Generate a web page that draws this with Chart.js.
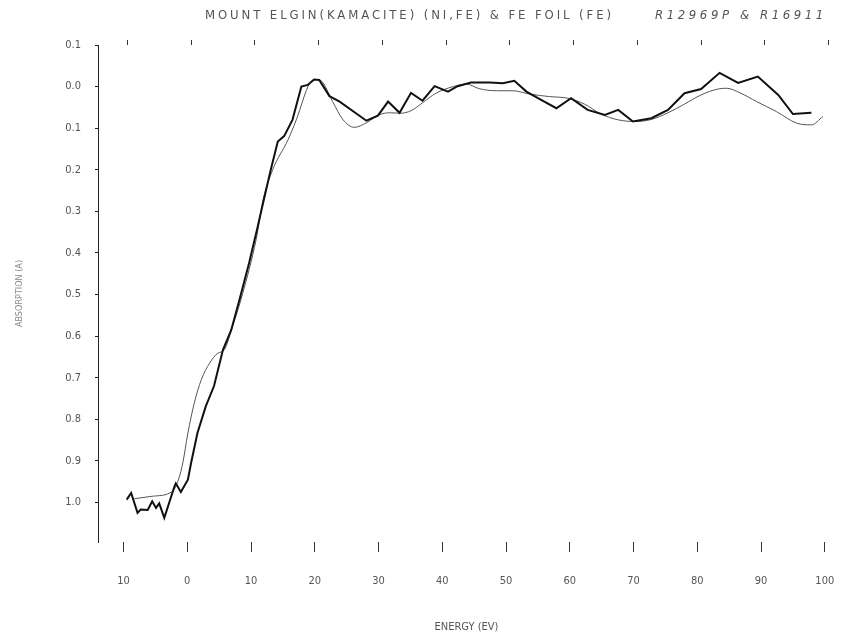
<!DOCTYPE html>
<html>
<head>
<meta charset="utf-8">
<script src="https://cdn.jsdelivr.net/npm/chart.js@4.4.0/dist/chart.umd.min.js"></script>
<style>
  html, body { margin: 0; padding: 0; background: #fff; }
  #wrap { width: 846px; height: 638px; }
</style>
</head>
<body>
<div id="wrap"><canvas id="chart"></canvas></div>
<script>
// sample spectrum (heavy, jagged line)
const sampleEnergy = [-9.5, -8.8, -7.8, -7.3, -6.2, -5.5, -4.9, -4.4, -3.6, -2.0, -1.8, -1.0, 0.1, 0.6, 1.6, 2.9, 4.2, 5.6, 6.9, 8.2, 9.7,
  11.0, 12.1, 13.1, 14.2, 15.2, 16.5, 17.9, 18.9, 19.9, 20.7, 22.3, 23.9, 28.1, 29.9, 31.5, 33.3, 35.1, 36.9, 38.8, 40.9,
  42.4, 44.5, 47.4, 49.5, 51.3, 53.2, 55.5, 57.9, 60.2, 62.8, 65.5, 67.6, 69.9, 72.8, 75.4, 78.0, 80.6, 83.5, 86.4, 89.5,
  92.7, 95.0, 97.9];
const sampleAbs = [0.993, 0.977, 1.025, 1.017, 1.018, 0.997, 1.013, 1.002, 1.037, 0.961, 0.954, 0.975, 0.945, 0.905, 0.833, 0.769, 0.720, 0.633, 0.585, 0.512, 0.424,
  0.340, 0.266, 0.200, 0.132, 0.119, 0.080, 0.000, -0.004, -0.017, -0.016, 0.023, 0.036, 0.082, 0.070, 0.036, 0.063, 0.015, 0.034, -0.001, 0.012,
  -0.001, -0.010, -0.010, -0.008, -0.014, 0.012, 0.032, 0.052, 0.028, 0.056, 0.068, 0.056, 0.084, 0.076, 0.056, 0.016, 0.006, -0.033, -0.009, -0.024,
  0.020, 0.066, 0.063];

// Fe foil reference (thin, smooth line)
const foilEnergy = [-8.3, -5.5, -2.3, -1.3, -0.7, 0.1, 1.1, 2.2, 3.5, 4.8, 5.8, 7.1, 8.7, 10.8, 11.9, 13.4, 15.8, 17.1, 19.2, 20.2, 21.0,
  22.8, 24.4, 26.2, 28.1, 30.1, 31.7, 33.5, 35.1, 36.9, 39.0, 41.7, 43.8, 45.8, 48.5, 51.1, 53.7, 56.8, 59.7, 62.3, 64.9,
  67.6, 70.2, 72.8, 75.4, 78.0, 80.6, 83.2, 84.6, 86.7, 89.3, 92.4, 95.6, 97.9, 99.7];
const foilAbs = [0.991, 0.985, 0.973, 0.941, 0.905, 0.833, 0.761, 0.705, 0.665, 0.641, 0.633, 0.577, 0.497, 0.368, 0.272, 0.200, 0.128, 0.080, -0.008, -0.017, -0.014,
  0.036, 0.079, 0.098, 0.087, 0.068, 0.063, 0.064, 0.058, 0.039, 0.016, 0.000, -0.006, 0.005, 0.010, 0.010, 0.018, 0.024, 0.028, 0.042, 0.066,
  0.080, 0.084, 0.079, 0.063, 0.042, 0.020, 0.006, 0.004, 0.015, 0.036, 0.060, 0.088, 0.092, 0.072];

const xTicks = [-10, 0, 10, 20, 30, 40, 50, 60, 70, 80, 90, 100];
const xTickLabels = ["10", "0", "10", "20", "30", "40", "50", "60", "70", "80", "90", "100"];
const yTicks = [-0.1, 0.0, 0.1, 0.2, 0.3, 0.4, 0.5, 0.6, 0.7, 0.8, 0.9, 1.0];
const yTickLabels = ["0.1", "0.0", "0.1", "0.2", "0.3", "0.4", "0.5", "0.6", "0.7", "0.8", "0.9", "1.0"];

const titleText = "MOUNT ELGIN(KAMACITE) (NI,FE) & FE FOIL (FE)";
const runText = "R12969P & R16911";

const toPoints = (xs, ys) => xs.map((x, i) => ({ x: x, y: ys[i] }));
const textColor = "#555";
const labelFont = { family: "'DejaVu Sans Condensed', 'DejaVu Sans'", size: 11 };

const titlePlugin = {
  id: "plotTitle",
  afterDraw(chart) {
    const ctx = chart.ctx;
    ctx.save();
    ctx.fillStyle = textColor;
    ctx.textBaseline = "middle";
    ctx.font = "13px 'DejaVu Sans Condensed'";
    ctx.letterSpacing = "2.9px";
    ctx.fillText(titleText, 205, 16);
    ctx.font = "italic 13px 'DejaVu Sans Condensed'";
    ctx.letterSpacing = "3.6px";
    ctx.fillText(runText, 655, 16);
    ctx.restore();
  }
};

// keep the plot box fixed: no extra side padding for tick label overhang
const fixX = (h) => (s) => { s.height = h; s.paddingLeft = 0; s.paddingRight = 0; };

new Chart(document.getElementById("chart"), {
  type: "line",
  data: {
    datasets: [{
      label: "Mount Elgin",
      data: toPoints(sampleEnergy, sampleAbs),
      borderColor: "#111",
      borderWidth: 2,
      pointRadius: 0,
      tension: 0,
      fill: false
    }, {
      label: "Fe foil",
      data: toPoints(foilEnergy, foilAbs),
      borderColor: "#555",
      borderWidth: 1,
      pointRadius: 0,
      cubicInterpolationMode: "monotone",
      fill: false
    }]
  },
  options: {
    responsive: true,
    maintainAspectRatio: false,
    animation: false,
    layout: { padding: { top: 40, right: 11, bottom: 0, left: 0 } },
    plugins: { legend: { display: false }, tooltip: { enabled: false } },
    scales: {
      x: {
        type: "linear",
        min: -14,
        max: 101.6,
        afterBuildTicks: s => { s.ticks = xTicks.map(v => ({ value: v })); },
        afterFit: fixX(96),
        border: { display: false },
        grid: { drawOnChartArea: false, tickLength: 10, color: "#333", tickWidth: 1 },
        ticks: {
          color: textColor, font: labelFont, padding: 23, maxRotation: 0,
          callback: (v, i) => xTickLabels[i]
        },
        title: { display: true, text: "ENERGY (EV)", color: textColor, font: labelFont, padding: { top: 0, bottom: 4 } }
      },
      x2: {
        type: "linear",
        position: "top",
        min: -14,
        max: 101.6,
        afterBuildTicks: s => { s.ticks = xTicks.map(v => ({ value: v + 0.6 })); },
        afterFit: fixX(5),
        border: { display: false },
        grid: { drawOnChartArea: false, tickLength: 5, color: "#333" },
        ticks: { display: false }
      },
      y: {
        type: "linear",
        reverse: true,
        min: -0.1,
        max: 1.095,
        afterBuildTicks: s => { s.ticks = yTicks.map(v => ({ value: v })); },
        afterFit: s => { s.width = 98; s.paddingTop = 0; s.paddingBottom = 0; },
        border: { display: true, color: "#222", width: 1 },
        grid: { drawOnChartArea: false, tickLength: 3, color: "#222" },
        ticks: {
          color: textColor, font: labelFont, padding: 14,
          callback: (v, i) => yTickLabels[i]
        },
        title: { display: true, text: "ABSORPTION (A)", color: "#888", font: { family: labelFont.family, size: 9 }, padding: { top: 14, bottom: 0 } }
      }
    }
  },
  plugins: [titlePlugin]
});
</script>
</body>
</html>
